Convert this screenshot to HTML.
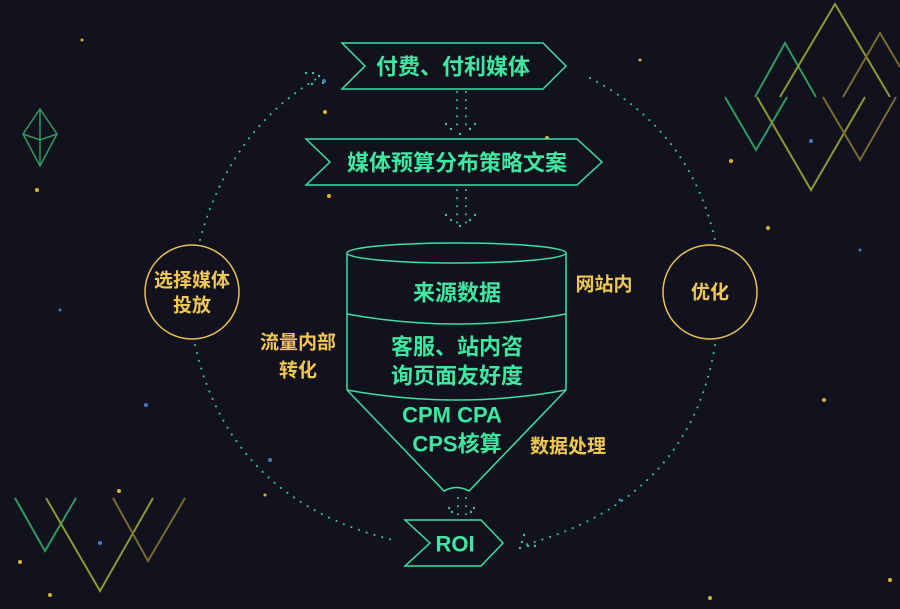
<!DOCTYPE html>
<html><head><meta charset="utf-8"><style>
html,body{margin:0;padding:0;background:#12121f;}
svg{display:block;}
text{font-family:"Liberation Sans","Noto Sans CJK SC",sans-serif;font-weight:bold;}
</style></head><body>
<svg width="900" height="609" viewBox="0 0 900 609" xmlns="http://www.w3.org/2000/svg">
<rect width="900" height="609" fill="#12121f"/>
<g fill="#e0b030">
<circle cx="325" cy="112" r="2"/><circle cx="329" cy="196" r="2"/><circle cx="547" cy="138" r="2"/>
<circle cx="37" cy="190" r="2"/><circle cx="20" cy="562" r="2"/><circle cx="50" cy="595" r="2"/>
<circle cx="119" cy="491" r="2"/><circle cx="731" cy="161" r="2"/><circle cx="768" cy="228" r="2"/>
<circle cx="824" cy="400" r="2"/><circle cx="890" cy="580" r="2"/><circle cx="710" cy="598" r="2"/>
<circle cx="265" cy="495" r="1.5"/><circle cx="82" cy="40" r="1.5"/><circle cx="640" cy="60" r="1.5"/>
</g>
<g fill="#4a7ac0">
<circle cx="324" cy="81" r="2"/><circle cx="811" cy="141" r="2"/><circle cx="100" cy="543" r="2"/>
<circle cx="146" cy="405" r="2"/><circle cx="270" cy="460" r="2"/><circle cx="620" cy="500" r="1.5"/>
<circle cx="860" cy="250" r="1.5"/><circle cx="60" cy="310" r="1.5"/>
</g>
<g fill="none" stroke-width="2">
<polyline points="725,97 756,150 787,97" stroke="#2e9a5e"/>
<polyline points="755,97 785,43 816,97" stroke="#2e9a5e"/>
<polyline points="780,97 835,4 890,97" stroke="#8a9a2e"/>
<polyline points="757,97 811,190 865,97" stroke="#8a9a2e"/>
<polyline points="843,97 880,33 900,67" stroke="#7a6a30"/>
<polyline points="823,97 860,160 896,97" stroke="#7a6a30"/>
<polyline points="15,498 45,551 76,498" stroke="#2e9a5e"/>
<polyline points="46,498 100,591 153,498" stroke="#8a9a2e"/>
<polyline points="113,498 148,561 185,498" stroke="#7a6a30"/>
<polygon points="40,109 57,134 40,166 23,134" stroke="#2e9a5e" stroke-width="1.5"/>
<polyline points="40,109 40,166" stroke="#2e9a5e" stroke-width="1.5"/>
<polyline points="23,134 40,140 57,134" stroke="#2e9a5e" stroke-width="1.5"/>
</g>
<g fill="none" stroke="#2ec89a" stroke-width="2" stroke-dasharray="0.1 8" stroke-linecap="round">
<path d="M200,240 Q230,130 318,78"/>
<path d="M590,78 Q690,130 715,240"/>
<path d="M195,345 Q230,500 393,540"/>
<path d="M715,345 Q690,500 524,545"/>
<path d="M457,92 L457,130 M466,92 L466,130"/>
<path d="M457,190 L457,228 M466,190 L466,228"/>
<path d="M458,498 L458,516 M466,498 L466,516"/>
</g>
<g fill="#2ec89a">
<circle cx="306" cy="73" r="1.2"/><circle cx="313" cy="73" r="1.2"/><circle cx="319" cy="76" r="1.2"/><circle cx="323" cy="83" r="1.2"/><circle cx="312" cy="84" r="1.2"/>
<circle cx="446" cy="124" r="1.2"/><circle cx="451" cy="129" r="1.2"/><circle cx="470" cy="129" r="1.2"/><circle cx="475" cy="124" r="1.2"/><circle cx="460" cy="134" r="1.2"/>
<circle cx="446" cy="215" r="1.2"/><circle cx="451" cy="220" r="1.2"/><circle cx="470" cy="220" r="1.2"/><circle cx="475" cy="215" r="1.2"/><circle cx="460" cy="226" r="1.2"/>
<circle cx="449" cy="508" r="1.2"/><circle cx="474" cy="508" r="1.2"/><circle cx="452" cy="512" r="1.2"/><circle cx="471" cy="512" r="1.2"/>
<circle cx="524" cy="535" r="1.2"/><circle cx="522" cy="542" r="1.2"/><circle cx="520" cy="548" r="1.2"/><circle cx="528" cy="546" r="1.2"/><circle cx="535" cy="546" r="1.2"/>
</g>
<g fill="#12121f" stroke="#3de0a0" stroke-width="1.5">
<polygon points="342,43 543,43 566,66 543,89 342,89 365,66"/>
<polygon points="306,139 577,139 602,162 577,185 306,185 330,162"/>
<polygon points="405,520 481,520 503,543 481,566 405,566 430,543"/>
</g>
<g fill="none" stroke="#3de0a0" stroke-width="1.5">
<ellipse cx="456.5" cy="253" rx="109.5" ry="10"/>
<path d="M347,253 L347,390 M566,253 L566,390"/>
<path d="M347,314 Q456.5,334 566,314"/>
<path d="M347,390 Q456.5,410 566,390"/>
<path d="M347,390 L444,491 Q456.5,484 469,491 L566,390"/>
</g>
<g fill="none" stroke="#e8c050" stroke-width="1.5">
<circle cx="192" cy="292" r="47"/>
<circle cx="710" cy="292" r="47"/>
</g>
<g fill="#3de8a0" font-size="22" text-anchor="middle" dominant-baseline="central">
<text x="453" y="67">付费、付利媒体</text>
<text x="457" y="163">媒体预算分布策略文案</text>
<text x="457" y="293">来源数据</text>
<text x="457" y="347">客服、站内咨</text>
<text x="457" y="376">询页面友好度</text>
<text x="452" y="415">CPM CPA</text>
<text x="457" y="444">CPS核算</text>
<text x="455" y="544">ROI</text>
</g>
<g fill="#f0c850" font-size="19" text-anchor="middle" dominant-baseline="central">
<text x="192" y="281">选择媒体</text>
<text x="192" y="306">投放</text>
<text x="710" y="293">优化</text>
<text x="604" y="285">网站内</text>
<text x="298" y="343">流量内部</text>
<text x="298" y="371">转化</text>
<text x="568" y="447">数据处理</text>
</g>
</svg>
</body></html>
